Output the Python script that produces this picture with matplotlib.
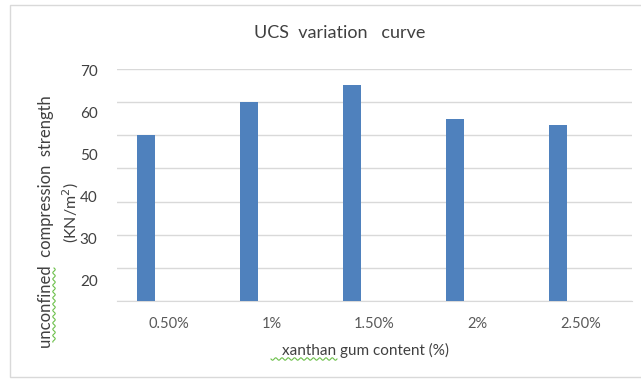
import matplotlib.pyplot as plt
import numpy as np
from matplotlib.patches import Rectangle
from matplotlib.lines import Line2D

contents = ["0.50%", "1%", "1.50%", "2%", "2.50%"]
ucs = [50.0, 60.1, 65.4, 54.9, 53.3]
grid_levels = [0, 10, 20, 30, 40, 50, 60, 70]
shown_ticks = [20, 30, 40, 50, 60, 70]

W, H = 641, 382
plt.rcParams['font.family'] = ['Lato', 'DejaVu Sans']

fig = plt.figure(figsize=(W / 100, H / 100), dpi=100)
fig.patch.set_facecolor('white')

# outer chart frame
fig.add_artist(Rectangle((10 / W, 5 / H), 632 / W, 372 / H, transform=fig.transFigure,
                         fill=False, edgecolor='#d9d9d9', lw=1))

ax = fig.add_axes([117 / W, 81.3 / H, 515 / W, 231.4 / H])
x = np.arange(len(contents))
ax.bar(x - 0.22, ucs, width=0.17, color='#4f81bd', zorder=3)
ax.set_xlim(-0.5, len(contents) - 0.5)
ax.set_ylim(0, 70)
ax.set_yticks(grid_levels)
ax.set_yticklabels([])
ax.grid(axis='y', color='#d9d9d9', lw=1, zorder=0)
ax.tick_params(axis='y', length=0)
ax.set_xticks(x)
ax.set_xticklabels(contents, fontsize=10.5, color='#595959')
ax.tick_params(axis='x', length=0, pad=12)
for s in ['top', 'right', 'left']:
    ax.spines[s].set_visible(False)
ax.spines['bottom'].set_color('#d9d9d9')

# value labels on the left, drawn on their own scale
lab = ax.twinx()
lab.set_ylim(15.24, 70.33)
lab.yaxis.tick_left()
lab.set_yticks(shown_ticks)
lab.set_yticklabels([str(t) for t in shown_ticks], fontsize=11, color='#404040')
lab.tick_params(axis='y', length=0, pad=14)
for s in lab.spines.values():
    s.set_visible(False)

fig.text(340 / W, 1 - 33 / H, "UCS  variation   curve", ha='center', va='center',
         fontsize=13, color='#404040')
fig.text(366 / W, 1 - 350 / H, "xanthan gum content (%)", ha='center', va='center',
         fontsize=11, color='#404040')
fig.text(46 / W, 1 - 222 / H, "unconfined  compression  strength", ha='center', va='center',
         rotation=90, fontsize=12, color='#404040')
fig.text(71 / W, 1 - 213 / H, "(KN/m$^2$)", ha='center', va='center',
         rotation=90, fontsize=11.5, color='#404040')

# spell-check squiggles
t = np.linspace(0, 1, 200)
sq_h = 271 + 66 * t
fig.add_artist(Line2D(sq_h / W, 1 - (359 + 1.2 * np.sin(t * 66)) / H,
                      transform=fig.transFigure, color='#6cc04a', lw=0.8))
sq_v = 268 + 74 * t
fig.add_artist(Line2D((54 + 1.2 * np.sin(t * 74)) / W, 1 - sq_v / H,
                      transform=fig.transFigure, color='#6cc04a', lw=0.8))

fig.savefig('out.png', dpi=100)
